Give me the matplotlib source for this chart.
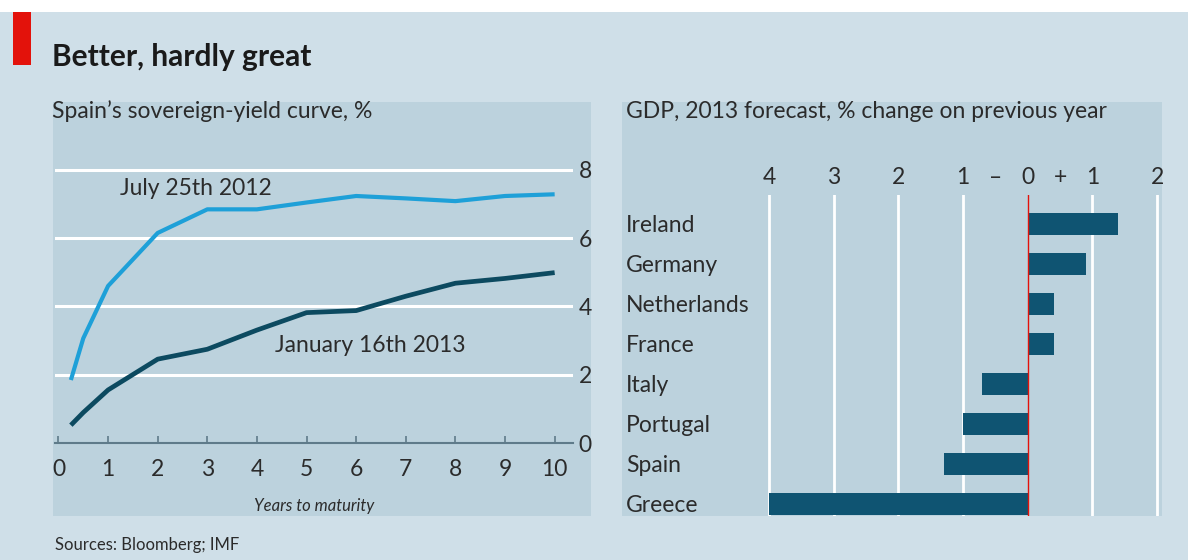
import matplotlib
matplotlib.use("Agg")
import matplotlib.pyplot as plt
from matplotlib.patches import Rectangle

plt.rcParams['font.family'] = ['Lato', 'DejaVu Sans']

# Spain's sovereign-yield curve, %
maturity = [0.25, 0.5, 1, 2, 3, 4, 5, 6, 7, 8, 9, 10]
july_2012 = [1.85, 3.07, 4.6, 6.15, 6.84, 6.84, 7.04, 7.23, 7.16, 7.08, 7.23, 7.28]
jan_2013 = [0.53, 0.9, 1.56, 2.46, 2.75, 3.31, 3.82, 3.88, 4.3, 4.68, 4.82, 4.99]
yield_ticks = [0, 2, 4, 6, 8]
year_ticks = list(range(0, 11))

# GDP, 2013 forecast, % change on previous year
countries = ["Ireland", "Germany", "Netherlands", "France",
             "Italy", "Portugal", "Spain", "Greece"]
gdp_2013 = [1.4, 0.9, 0.4, 0.4, -0.7, -1.0, -1.3, -4.0]
gdp_ticks = [-4, -3, -2, -1, 0, 1, 2]

W, H = 1188, 560
BG = "#cfdfe8"
PANEL = "#bcd2dd"
TEXT = "#2b2b2b"
LIGHT = "#1ea0d8"
DARK = "#0c4a60"
BAR = "#0f5472"
RED = "#e3120b"
LBL = 16.5


def px_box(x0, y0, x1, y1):
    """Figure-fraction rect from pixel edges (origin top-left)."""
    return [x0 / W, 1 - y1 / H, (x1 - x0) / W, (y1 - y0) / H]


def add_rect(x0, y0, x1, y1, color, z):
    b = px_box(x0, y0, x1, y1)
    fig.patches.append(Rectangle((b[0], b[1]), b[2], b[3], transform=fig.transFigure,
                                 facecolor=color, edgecolor="none", zorder=z))


fig = plt.figure(figsize=(W / 100, H / 100), dpi=100)
fig.patch.set_facecolor("white")

# background, panels and red tab
add_rect(0, 12, W, H, BG, -3)
add_rect(53, 102, 591, 516, PANEL, -2)
add_rect(622, 102, 1162, 516, PANEL, -2)
add_rect(13, 12, 31, 65, RED, -1)

fig.text(52 / W, 1 - 66 / H, "Better, hardly great", fontsize=21.5, fontweight="bold",
         color="#1a1a1a", va="baseline")
fig.text(52 / W, 1 - 118 / H, "Spain\u2019s sovereign-yield curve, %", fontsize=LBL,
         color=TEXT, va="baseline")
fig.text(626 / W, 1 - 118 / H, "GDP, 2013 forecast, % change on previous year",
         fontsize=LBL, color=TEXT, va="baseline")
fig.text(55 / W, 1 - 550 / H, "Sources: Bloomberg; IMF", fontsize=12,
         color=TEXT, va="baseline")

# ---- left: yield curves ----
ax1 = fig.add_axes(px_box(55, 159.4, 573, 443.3))
ax1.set_facecolor("none")
ax1.set_xlim(-0.07, 10.37)
ax1.set_ylim(0, 8.3)
for s in ["top", "left", "right"]:
    ax1.spines[s].set_visible(False)
ax1.spines["bottom"].set_color("#5f7b8a")
ax1.spines["bottom"].set_linewidth(1.5)
for v in yield_ticks[1:]:
    ax1.axhline(v, color="white", lw=2.2, zorder=1)

ax1.plot(maturity, july_2012, color=LIGHT, lw=3.0, solid_capstyle="butt", zorder=3)
ax1.plot(maturity, jan_2013, color=DARK, lw=3.4, solid_capstyle="butt", zorder=3)
ax1.text(1.23, 7.25, "July 25th 2012", fontsize=LBL, color=TEXT, va="baseline")
ax1.text(4.36, 2.68, "January 16th 2013", fontsize=LBL, color=TEXT, va="baseline")

ax1.set_xticks(year_ticks)
ax1.tick_params(axis="x", direction="in", length=5, width=1.2, color="#5f7b8a",
                labelsize=LBL, labelcolor=TEXT, pad=11)
ax1.yaxis.tick_right()
ax1.set_yticks(yield_ticks)
ax1.tick_params(axis="y", length=0, labelsize=LBL, labelcolor=TEXT, pad=4)
ax1.set_xlabel("Years to maturity", fontsize=12, style="italic", color=TEXT,
               labelpad=13)

# ---- right: GDP forecast bars ----
ax2 = fig.add_axes(px_box(740, 195, 1162, 516))
ax2.set_facecolor("none")
ax2.set_xlim(-4.447, 2.076)
ax2.set_ylim(7.3, -0.725)
for s in ax2.spines.values():
    s.set_visible(False)
for v in gdp_ticks:
    if v != 0:
        ax2.axvline(v, color="white", lw=2.0, zorder=1)
ax2.barh(range(len(countries)), gdp_2013, height=0.55, color=BAR, zorder=2)
ax2.axvline(0, color=RED, lw=1.0, zorder=3)

ax2.xaxis.tick_top()
ax2.set_xticks(gdp_ticks, [str(abs(v)) for v in gdp_ticks])
ax2.set_xticks([-0.5, 0.5], ["\u2013", "+"], minor=True)
ax2.tick_params(axis="x", which="both", length=0, labelsize=LBL, labelcolor=TEXT, pad=5)
ax2.set_yticks(range(len(countries)), countries)
ax2.tick_params(axis="y", length=0, labelsize=LBL, labelcolor=TEXT, pad=82)
for lab in ax2.get_yticklabels():
    lab.set_horizontalalignment("left")

fig.savefig("out.png", dpi=100, facecolor=fig.get_facecolor())
